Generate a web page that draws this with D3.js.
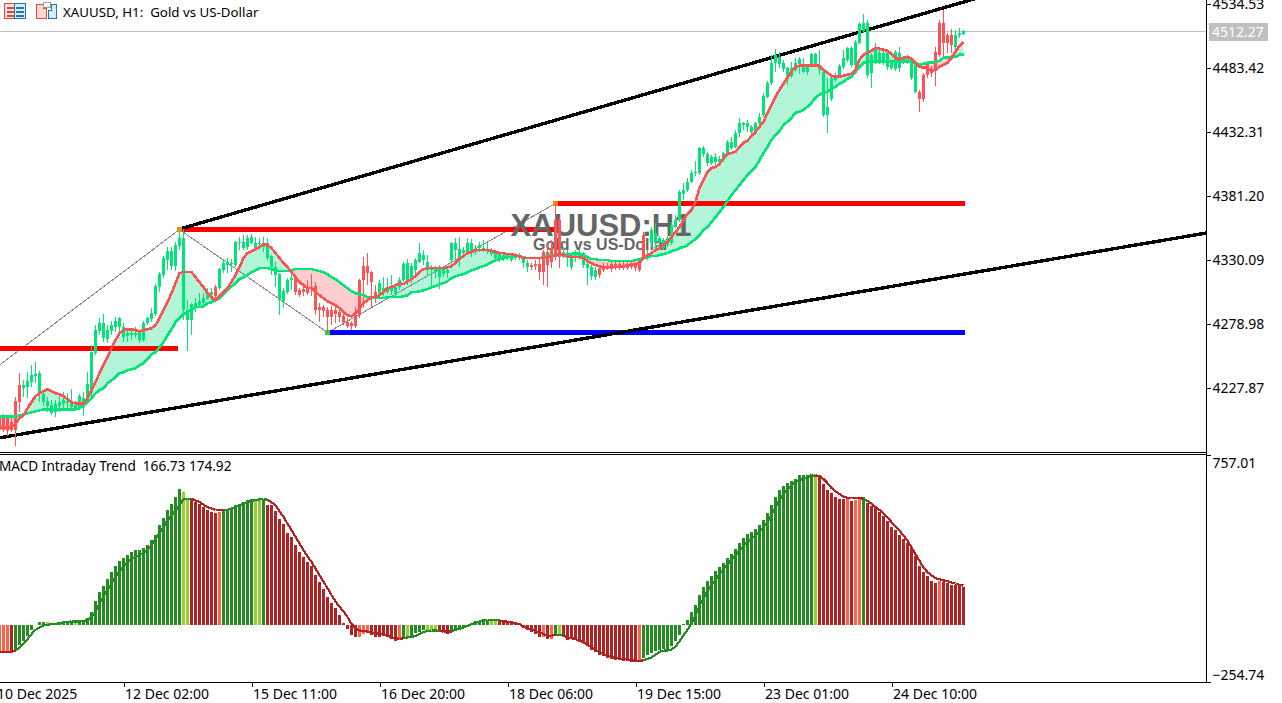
<!DOCTYPE html>
<html lang="en">
<head>
    <meta charset="UTF-8">
    <title>XAUUSD H1</title>
    <script src="https://d3js.org/d3.v7.min.js"></script>
    <style>
        html, body { margin: 0; padding: 0; background: #fff; overflow: hidden; }
        svg { display: block; }
        text { font-family: "Noto Sans", sans-serif; fill: #000; white-space: pre; }
        .crisp { shape-rendering: crispEdges; }
        .axis text { font-family: "Noto Sans", sans-serif; font-size: 14px; }
        .axis line { stroke: #000; shape-rendering: crispEdges; }
    </style>
</head>
<body>
    <svg id="chart" width="1282" height="703"></svg>

    <script>
        // price panel values, one entry per hourly bar
        var bodyHigh = [
            4205.2,4203.6,4200.4,4217.2,4230,4230,4233.2,4238,4238.8,4239.6,
            4222.8,4217.2,4214,4214.8,4216.4,4218,4217.2,4216.4,4214,4221.2,
            4219.6,4230.8,4256.4,4274,4279.6,4279.6,4274,4278,4281.2,4283.6,
            4276.4,4271.6,4271.6,4271.6,4272.4,4279.6,4283.6,4287.6,4309.2,4318.8,
            4331.6,4337.2,4337.2,4342,4347.6,4347.6,4290,4294.8,4295.6,4297.2,
            4299.6,4304.4,4304.4,4308.4,4322.8,4327.6,4328.4,4327.6,4344.4,4344.4,
            4344.4,4347.6,4348.4,4343.6,4343.6,4342.8,4343.6,4333.2,4324.4,4318.8,
            4305.2,4314,4315.6,4315.6,4306,4306.8,4308.4,4308.4,4309.2,4292.4,
            4292.4,4290,4290,4290,4288.4,4285.2,4280.4,4279.6,4286,4314,
            4325.2,4325.2,4320.4,4304.4,4311.6,4307.6,4307.6,4307.6,4308.4,4314,
            4326.8,4327.6,4325.2,4330,4335.6,4334,4328.4,4323.6,4322.8,4322.8,
            4322.8,4322,4343.6,4343.6,4338.8,4338,4343.6,4343.6,4338,4342,
            4339.6,4338.8,4338,4336.4,4334.8,4334,4334,4334,4334,4334,
            4331.6,4327.6,4326,4326.8,4326.8,4336.4,4336.4,4339.6,4362,4362,
            4336.4,4335.6,4334,4336.4,4335.6,4335.6,4326.8,4324.4,4322,4323.6,
            4325.2,4325.2,4326.8,4326.8,4326.8,4326,4326,4327.6,4326,4330,
            4350,4334,4354,4351.6,4347.6,4346,4347.6,4358,4362,4384.4,
            4386,4392.4,4399.6,4400.4,4419.6,4419.6,4414.8,4412.4,4412.4,4410.8,
            4415.6,4424.4,4424.4,4431.6,4439.6,4439.6,4439.6,4436.4,4439.6,4444.4,
            4461.2,4471.6,4487.6,4494,4492.4,4487.6,4483.6,4483.6,4487.6,4490.8,
            4486,4484.4,4494.8,4494.8,4486,4480.4,4452.4,4475.6,4478,4485.2,
            4491.6,4499.6,4499.6,4504.4,4518.8,4519.6,4519.6,4494,4499.6,4495.6,
            4495.6,4495.6,4488.4,4496.4,4495.6,4491.6,4491.6,4488.4,4487.6,4464.4,
            4478,4487.6,4482.8,4496.4,4519.6,4519.6,4510,4510,4510,4511.6,
            4513.2
        ];
        var bodyLow = [
            4194,4193.2,4194,4194,4216.4,4227.6,4228.4,4232.4,4237.2,4223.6,
            4216.4,4213.2,4207.6,4208.4,4213.2,4214.8,4215.6,4212.4,4211.6,4212.4,
            4212.4,4218,4223.6,4255.6,4273.2,4267.6,4266.8,4273.2,4276.4,4276.4,
            4268.4,4269.2,4270,4270,4266,4266,4279.6,4282.8,4286.8,4308.4,
            4318,4330,4325.2,4325.2,4341.2,4290,4282,4282,4293.2,4294,
            4295.6,4298.8,4302,4301.2,4307.6,4322,4326,4326.8,4326,4343.6,
            4339.6,4340.4,4343.6,4339.6,4342.8,4340.4,4331.6,4324.4,4318,4298,
            4297.2,4304.4,4314,4304.4,4302,4304.4,4303.6,4306.8,4290,4290,
            4289.2,4284.4,4284.4,4286.8,4284.4,4280.4,4277.2,4277.2,4277.2,4286,
            4314,4319.6,4312.4,4300.4,4302,4303.6,4304.4,4305.2,4302,4308.4,
            4314,4314,4314.8,4322,4328.4,4330,4322,4322,4320.4,4316.4,
            4318.8,4319.6,4330,4338,4331.6,4335.6,4335.6,4335.6,4336.4,4339.6,
            4338,4337.2,4334.8,4331.6,4331.6,4331.6,4331.6,4330,4331.6,4331.6,
            4327.6,4324.4,4324.4,4325.2,4320.4,4320.4,4326,4328.4,4332.4,4332.4,
            4332.4,4331.6,4324.4,4331.6,4331.6,4326,4323.6,4317.2,4316.4,4318,
            4322,4322.8,4322.8,4323.6,4323.6,4323.6,4323.6,4324.4,4323.6,4322,
            4331.6,4331.6,4344.4,4343.6,4344.4,4339.6,4342,4343.6,4356.4,4362,
            4382.8,4386,4392.4,4399.6,4399.6,4414.8,4407.6,4407.6,4408.4,4408.4,
            4410,4415.6,4419.6,4420.4,4431.6,4438,4436.4,4432.4,4433.2,4439.6,
            4446,4460.4,4471.6,4487.6,4486.8,4482.8,4475.6,4477.2,4482,4486.8,
            4480.4,4480.4,4486.8,4486,4482,4446,4446,4458.8,4474,4476.4,
            4484.4,4490,4486,4486,4503.6,4513.2,4478,4479.6,4488.4,4488.4,
            4488.4,4484.4,4483.6,4482.8,4483.6,4488.4,4489.2,4475.6,4464.4,4458.8,
            4458.8,4478,4479.6,4482,4494,4503.6,4503.6,4502,4500.4,4510,
            4510.8
        ];
        var wickHigh = [
            4206.8,4205.2,4204.4,4220.4,4239.6,4234,4240.4,4246,4248.4,4241.2,
            4226,4220.4,4218,4218,4221.2,4224.4,4223.6,4226.8,4217.2,4222.8,
            4224.4,4240.4,4262,4278,4283.6,4286.8,4278,4281.2,4284.4,4284.4,
            4279.6,4275.6,4275.6,4276.4,4274,4281.2,4284.4,4291.6,4310.8,4320.4,
            4333.2,4340.4,4340.4,4344.4,4354,4354.8,4298,4295.6,4299.6,4303.6,
            4303.6,4307.6,4307.6,4310,4323.6,4330.8,4331.6,4330.8,4345.2,4348.4,
            4350,4350,4350.8,4348.4,4347.6,4348.4,4347.6,4334,4328.4,4319.6,
            4307.6,4315.6,4322,4318,4307.6,4311.6,4314,4318.8,4312.4,4295.6,
            4294,4292.4,4293.2,4292.4,4291.6,4287.6,4283.6,4281.2,4292.4,4314.8,
            4332.4,4335.6,4321.2,4310,4314,4316.4,4315.6,4318,4310,4316.4,
            4328.4,4330.8,4327.6,4331.6,4343.6,4338,4334,4326,4325.2,4326,
            4325.2,4324.4,4344.4,4347.6,4348.4,4340.4,4347.6,4346.8,4342,4344.4,
            4346,4343.6,4339.6,4338,4336.4,4335.6,4335.6,4335.6,4335.6,4335.6,
            4332.4,4330,4327.6,4330,4332.4,4338,4344.4,4346,4375.6,4364.4,
            4340.4,4338,4335.6,4338,4338,4336.4,4331.6,4326,4324.4,4326,
            4327.6,4327.6,4328.4,4328.4,4328.4,4328.4,4328.4,4330,4328.4,4331.6,
            4352.4,4338,4356.4,4359.6,4349.2,4347.6,4349.2,4360.4,4366,4386,
            4391.6,4395.6,4402,4409.2,4420.4,4421.2,4416.4,4414,4415.6,4413.2,
            4416.4,4426,4428.4,4434,4443.6,4440.4,4442,4438,4440.4,4447.6,
            4463.6,4473.2,4494,4498.8,4496.4,4490,4484.4,4488.4,4491.6,4492.4,
            4491.6,4486.8,4495.6,4495.6,4498,4482,4475.6,4477.2,4479.6,4486.8,
            4498,4500.4,4501.2,4506,4520.4,4526.8,4522,4495.6,4503.6,4498,
            4498,4498,4490,4498,4500.4,4493.2,4494,4490,4488.4,4466,
            4479.6,4489.2,4485.2,4500.4,4522,4530,4511.6,4514.8,4514,4515.6,
            4514
        ];
        var wickLow = [
            4192.4,4189.2,4192.4,4181.2,4208.4,4220.4,4219.6,4228.4,4231.6,4216.4,
            4213.2,4208.4,4206,4204.4,4208.4,4210.8,4211.6,4210.8,4209.2,4210,
            4205.2,4216.4,4220.4,4254,4270,4264.4,4263.6,4270,4272.4,4271.6,
            4264.4,4264.4,4266,4267.6,4263.6,4264.4,4278,4280.4,4285.2,4304.4,
            4315.6,4322,4322,4321.2,4338,4282,4257.2,4270,4288.4,4291.6,
            4293.2,4298,4298,4299.6,4306,4319.6,4319.6,4320.4,4324.4,4338,
            4338,4338,4342.8,4338,4339.6,4336.4,4330,4318,4308.4,4286,
            4291.6,4302.8,4306,4302,4300.4,4301.2,4302,4301.2,4286,4280.4,
            4284.4,4272.4,4278,4279.6,4280.4,4278,4275.6,4274,4275.6,4283.6,
            4291.6,4310,4291.6,4295.6,4299.6,4301.2,4302.8,4302,4300.4,4306,
            4312.4,4310,4311.6,4318,4327.6,4326,4318,4307.6,4315.6,4306.8,
            4316.4,4315.6,4323.6,4328.4,4324.4,4331.6,4334,4332.4,4334,4336.4,
            4336.4,4334.8,4333.2,4330,4328.4,4329.2,4330,4328.4,4330,4330,
            4323.6,4320.4,4322,4322,4314,4310,4308.4,4323.6,4330,4323.6,
            4331.6,4324.4,4322,4328.4,4330,4323.6,4310,4314,4314,4315.6,
            4320.4,4322,4320.4,4322,4322,4322,4322,4322.8,4321.2,4320.4,
            4330.8,4330,4340.4,4338,4341.2,4338,4340.4,4342,4355.6,4360.4,
            4378,4384.4,4391.6,4397.2,4398,4412.4,4405.2,4406,4406,4406,
            4408.4,4414,4418,4419.6,4428.4,4434,4432.4,4430,4430,4437.2,
            4444.4,4459.6,4470,4480.4,4483.6,4480.4,4470,4475.6,4480.4,4478.8,
            4479.6,4478,4486,4485.2,4478,4444.4,4431.6,4457.2,4472.4,4475.6,
            4482.8,4488.4,4484.4,4483.6,4502.8,4511.6,4475.6,4467.6,4486.8,4486.8,
            4486,4482,4482,4481.2,4480.4,4486.8,4486.8,4474,4463.6,4448.4,
            4456.4,4475.6,4476.4,4469.2,4492.4,4492.4,4495.6,4495.6,4498,4507.6,
            4510
        ];
        var fastMa = [
            4196.4,4196.4,4196.4,4199.6,4203.6,4206,4211.6,4216.4,4221.2,4223.6,
            4225.2,4226.8,4225.2,4223.6,4222.8,4221.2,4218.8,4216.4,4215.6,4215.6,
            4215.6,4219.6,4226,4232.4,4239.6,4246,4252.4,4259.6,4266,4271.6,
            4274,4274.8,4274.8,4274,4273.2,4274,4274.8,4275.6,4278,4283.6,
            4290,4296.4,4303.6,4311.6,4319.6,4320.4,4320.4,4320.4,4316.4,4312.4,
            4308.4,4303.6,4300.4,4298,4301.2,4304.4,4307.6,4312.4,4318,4324.4,
            4331.6,4335.6,4337.2,4338.8,4340.4,4342.8,4342,4339.6,4335.6,4331.6,
            4327.6,4324.4,4320.4,4316.4,4312.4,4310,4307.6,4307.6,4304.4,4302,
            4299.6,4297.2,4295.6,4294,4291.6,4288.4,4286,4285.2,4287.6,4291.6,
            4295.6,4298,4300.4,4300.4,4302,4304.4,4307.6,4308.4,4310,4311.6,
            4310.8,4313.2,4314.8,4317.2,4320.4,4322.8,4323.6,4323.6,4323.6,4323.6,
            4323.6,4324.4,4325.2,4327.6,4330.8,4333.2,4335.6,4336.4,4338,4338,
            4338,4338,4337.2,4336.4,4335.6,4335.6,4334.8,4334.8,4334,4333.2,
            4331.6,4331.6,4331.6,4331.6,4331.6,4331.6,4332.4,4333.2,4334,4334.8,
            4334,4333.2,4332.4,4332.4,4332.4,4331.6,4329.2,4327.6,4326,4325.2,
            4324.4,4324.4,4324.4,4324.4,4324.4,4325.2,4326,4326,4326.8,4327.6,
            4331.6,4334,4335.6,4338,4339.6,4342,4344.4,4348.4,4352.4,4356.4,
            4362,4366.8,4370,4376.4,4387.6,4394,4400.4,4403.6,4404.4,4406.8,
            4411.6,4414.8,4415.6,4416.4,4420.4,4423.6,4425.2,4429.2,4432.4,4436.4,
            4440.4,4447.6,4454,4460.4,4466,4470.8,4475.6,4480.4,4484.4,4485.2,
            4485.2,4485.2,4485.2,4485.2,4485.2,4482,4479.6,4477.2,4476.4,4476.4,
            4477.2,4478,4478.8,4482,4490,4494,4495.6,4497.2,4499.6,4498.8,
            4498,4497.2,4494.8,4491.6,4490,4491.6,4492.4,4490.8,4487.6,4484.4,
            4483.6,4483.6,4481.2,4482,4484.4,4486,4487.6,4491.6,4496.4,4501.2,
            4504.4
        ];
        var slowMa = [
            4205.2,4205.2,4205.2,4205.2,4206,4206.8,4207.6,4208.4,4209.2,4210,
            4210.8,4210.8,4210.8,4210.8,4210.8,4210.8,4210.8,4210.8,4210.8,4211.6,
            4214,4216.4,4219.6,4223.6,4226,4227.6,4231.6,4234,4236.4,4239.6,
            4240.4,4242,4242.8,4243.6,4246,4247.6,4250.8,4254.8,4256.4,4260.4,
            4264.4,4270,4274.8,4280.4,4283.6,4286.8,4288.4,4290.8,4292.4,4292.4,
            4293.2,4295.6,4296.4,4298,4299.6,4302.8,4306,4309.2,4311.6,4314.8,
            4316.4,4318,4320.4,4322,4323.6,4323.6,4323.6,4322.8,4322,4321.2,
            4321.2,4321.2,4322,4322.8,4322.8,4322.8,4322.8,4322.8,4322,4321.2,
            4320.4,4318.8,4316.4,4314.8,4312.4,4310,4307.6,4305.2,4303.6,4302.8,
            4302,4300.4,4299.6,4299.6,4299.6,4299.6,4300.4,4300.4,4300.4,4300.4,
            4301.2,4302,4304.4,4304.4,4305.2,4306,4306.8,4308.4,4309.2,4310.8,
            4311.6,4313.2,4315.6,4317.2,4318,4318.8,4320.4,4322,4322.8,4324.4,
            4325.2,4326.8,4328.4,4330,4330.8,4331.6,4332.4,4332.4,4333.2,4333.2,
            4332.4,4331.6,4331.6,4331.6,4331.6,4332.4,4333.2,4334,4334,4334,
            4334,4334,4334.8,4335.6,4334.8,4334,4332.4,4330.8,4330.8,4330,
            4330,4330,4329.2,4329.2,4329.2,4329.2,4329.2,4329.2,4330,4330.8,
            4331.6,4332.4,4333.2,4333.2,4334,4334.8,4335.6,4337.2,4338,4339.6,
            4340.4,4342,4344.4,4346.8,4350,4354,4356.4,4360.4,4364.4,4368.4,
            4372.4,4377.2,4382,4386,4390,4394,4398,4401.2,4404.4,4410,
            4415.6,4420.4,4426,4430,4433.2,4438,4440.4,4443.6,4447.6,4448.4,
            4450,4452.4,4455.6,4459.6,4462,4463.6,4464.4,4466.8,4468.4,4470.8,
            4472.4,4474.8,4476.4,4480.4,4484.4,4487.6,4488.4,4488.4,4488.4,4488.4,
            4488.4,4488.4,4488.4,4488.4,4488.4,4488.4,4488.4,4488.4,4487.6,4486,
            4486.8,4487.6,4487.6,4488.4,4489.2,4491.6,4491.6,4492.4,4492.4,4494,
            4494
        ];
        // bars drawn in the bearish colour, as [first, last]
        var redCandleRanges = [[-1, 4], [53, 53], [73, 93], [132, 139], [149, 160], [229, 237]];

        // objects on the price panel
        var currentPrice = 4512.27;
        var levels = [
            {from: -2, to: 43.25, price: 4259.4, color: "#ff0000"},
            {from: 44, to: 138, price: 4354.4, color: "#ff0000"},
            {from: 138, to: 240, price: 4375.2, color: "#ff0000"},
            {from: 81, to: 240, price: 4272.2, color: "#0000ff"}
        ];
        var zigzagIndex = [-1, 44, 81, 138];
        var zigzagPrice = [4246.2, 4354.4, 4272.2, 4375.2];
        var upperTrendIndex = [44, 248];
        var upperTrendPrice = [4354.8, 4543.5];
        var lowerTrendIndex = [-1, 301];
        var lowerTrendPrice = [4188.1, 4351.8];

        // MACD panel values
        var macdHist = [
            -118,-118,-126,-110,-89,-71,-49,-22,-2,12,
            13,13,7,7,10,15,18,15,10,19,
            19,30,59,106,148,173,204,237,262,284,
            296,311,325,333,333,343,355,377,402,444,
            476,510,540,569,606,592,565,559,547,537,
            525,510,503,500,503,510,518,521,532,540,
            547,555,562,562,562,562,535,532,506,473,
            451,411,392,358,325,303,281,262,222,192,
            160,126,96,74,44,10,-18,-44,-56,-52,
            -40,-34,-44,-52,-52,-49,-55,-64,-70,-67,
            -59,-52,-55,-37,-30,-25,-22,-22,-22,-30,
            -34,-41,-33,-22,-19,-15,-4,7,15,19,
            25,22,19,19,22,19,15,15,10,7,
            -15,-22,-33,-41,-55,-56,-62,-62,-44,-40,
            -55,-67,-64,-67,-70,-81,-96,-111,-123,-133,
            -141,-148,-152,-155,-158,-160,-163,-167,-167,-167,
            -148,-133,-126,-118,-111,-106,-106,-96,-74,-44,
            4,22,58,89,133,169,195,217,240,257,
            275,297,315,337,364,386,404,413,426,444,
            466,497,532,572,599,617,630,640,652,666,
            666,670,674,674,666,626,599,586,572,563,
            563,563,550,555,559,568,541,528,519,501,
            484,461,435,422,399,382,364,342,306,262,
            235,217,195,186,195,191,186,177,177,177,
            169
        ];
        var macdSignal = [
            -121,-121,-121,-115,-100,-84,-64,-41,-22,-12,
            -2,0,3,4,7,9,13,15,15,15,
            16,22,33,59,96,126,155,185,214,237,
            259,278,293,303,311,322,333,355,385,407,
            436,466,488,510,532,559,562,562,555,547,
            535,525,518,513,513,513,513,518,525,532,
            540,547,553,556,559,560,558,547,532,506,
            481,451,422,392,362,333,306,281,251,222,
            192,163,133,104,81,60,35,4,-15,-25,
            -27,-30,-33,-37,-41,-44,-49,-55,-59,-64,
            -59,-56,-55,-49,-40,-33,-27,-25,-25,-27,
            -30,-30,-30,-22,-18,-12,-4,3,10,15,
            19,22,22,22,19,18,13,10,7,3,
            -7,-15,-19,-27,-34,-41,-47,-49,-44,-44,
            -49,-56,-59,-64,-71,-78,-89,-101,-111,-123,
            -130,-136,-143,-148,-151,-152,-155,-158,-160,-160,
            -158,-152,-145,-133,-121,-115,-114,-111,-96,-74,
            -47,-22,7,44,85,118,150,178,200,225,
            250,270,290,310,330,352,370,385,398,415,
            435,458,490,525,555,585,605,622,636,645,
            652,658,663,666,664,650,632,610,595,583,
            572,566,565,565,565,562,552,540,525,512,
            497,478,458,440,420,398,375,345,315,285,
            255,235,220,208,203,198,195,188,184,178,
            175
        ];
        var histLightBars = [11, 12, 18, 45, 46, 63, 64, 101, 106, 107, 108, 122, 123, 139, 203];
        var histOrangeBars = [-1, 0, 1, 54, 89, 90, 91, 99, 135, 137, 159, 211, 213, 214, 234];
        var histFallingRanges = [[2, 2], [47, 53], [66, 88], [92, 98], [109, 111], [124, 134], [136, 136],
            [140, 158], [204, 210], [212, 212], [216, 233], [235, 240]];
        var signalRisingRanges = [[3, 46], [55, 65], [100, 108], [112, 123], [138, 139], [160, 202], [215, 215]];

        // axis labels
        var priceTicks = [4534.53, 4483.42, 4432.31, 4381.20, 4330.09, 4278.98, 4227.87];
        var macdTicks = [757.01, -254.74];
        var timeTickIndex = [-2, 30, 62, 94, 126, 158, 190, 222];
        var timeTickLabels = ["10 Dec 2025", "12 Dec 02:00", "15 Dec 11:00", "16 Dec 20:00",
            "18 Dec 06:00", "19 Dec 15:00", "23 Dec 01:00", "24 Dec 10:00"];

        var GREEN = "#00e676", RED = "#ff5252";
        var plotRight = 1206;

        var x = d3.scaleLinear().domain([0, 240]).range([3.5, 963.5]);
        var y = d3.scaleLinear().domain([4534.53, 4227.87]).range([4, 388]);
        var m = d3.scaleLinear().domain([757.01, -254.74]).range([455, 682]);

        function inRanges(i, ranges) {
            return ranges.some(function(r) { return i >= r[0] && i <= r[1]; });
        }
        // bar -1 is only partly on screen and repeats the first reading
        function at(values, i) { return values[Math.max(i, 0)]; }

        var bars = d3.range(-1, bodyHigh.length);
        var svg = d3.select("#chart");
        var defs = svg.append("defs");

        defs.append("clipPath").attr("id", "price-clip").append("rect")
            .attr("width", plotRight).attr("height", 451);
        defs.append("clipPath").attr("id", "macd-clip").append("rect")
            .attr("y", 455).attr("width", plotRight).attr("height", 227);

        var pricePanel = svg.append("g").attr("clip-path", "url(#price-clip)");
        var macdPanel = svg.append("g").attr("clip-path", "url(#macd-clip)");

        // current price line
        pricePanel.append("line").attr("class", "crisp")
            .attr("x1", 0).attr("x2", plotRight)
            .attr("y1", y(currentPrice)).attr("y2", y(currentPrice))
            .attr("stroke", "#c0c0c0");

        // cloud between the two averages, split at the slow line
        var cloud = d3.area()
            .x(function(i) { return x(i); })
            .y0(function(i) { return y(at(fastMa, i)); })
            .y1(function(i) { return y(at(slowMa, i)); });
        var aboveSlow = d3.area().x(function(i) { return x(i); })
            .y0(function(i) { return y(at(slowMa, i)); }).y1(0);
        var belowSlow = d3.area().x(function(i) { return x(i); })
            .y0(function(i) { return y(at(slowMa, i)); }).y1(460);

        defs.append("clipPath").attr("id", "above-slow").append("path").attr("d", aboveSlow(bars));
        defs.append("clipPath").attr("id", "below-slow").append("path").attr("d", belowSlow(bars));

        pricePanel.append("path").attr("d", cloud(bars))
            .attr("fill", "#b2f5d8").attr("clip-path", "url(#above-slow)");
        pricePanel.append("path").attr("d", cloud(bars))
            .attr("fill", "#ffcdcd").attr("clip-path", "url(#below-slow)");

        // objects
        var line = d3.line()
            .x(function(d) { return x(d[0]); })
            .y(function(d) { return y(d[1]); });

        pricePanel.append("path").attr("class", "crisp")
            .attr("d", line(d3.zip(zigzagIndex, zigzagPrice)))
            .attr("fill", "none").attr("stroke", "#888");

        pricePanel.selectAll(".level").data(levels).enter().append("line")
            .attr("class", "level crisp")
            .attr("x1", function(d) { return x(d.from); })
            .attr("x2", function(d) { return x(d.to) + 1; })
            .attr("y1", function(d) { return y(d.price); })
            .attr("y2", function(d) { return y(d.price); })
            .attr("stroke", function(d) { return d.color; })
            .attr("stroke-width", 5);

        pricePanel.selectAll(".trend")
            .data([d3.zip(upperTrendIndex, upperTrendPrice), d3.zip(lowerTrendIndex, lowerTrendPrice)])
            .enter().append("path")
            .attr("class", "trend crisp")
            .attr("d", line)
            .attr("fill", "none").attr("stroke", "#000").attr("stroke-width", 3.4);

        pricePanel.selectAll(".pivot")
            .data([[44, 4354.4, "#ff8c00"], [81, 4272.2, "#32cd32"], [138, 4375.2, "#ff8c00"]])
            .enter().append("rect")
            .attr("class", "pivot crisp")
            .attr("x", function(d) { return x(d[0]) - 2.5; })
            .attr("y", function(d) { return y(d[1]) - 2.5; })
            .attr("width", 5).attr("height", 5)
            .attr("fill", function(d) { return d[2]; });

        // chart watermark
        pricePanel.append("text").attr("x", 601).attr("y", 236)
            .attr("text-anchor", "middle")
            .style("font", "bold 31px 'Liberation Sans'").style("fill", "#666")
            .text("XAUUSD:H1");
        pricePanel.append("text").attr("x", 601).attr("y", 250)
            .attr("text-anchor", "middle")
            .style("font", "bold 16px 'Liberation Sans'").style("fill", "#666")
            .text("Gold vs US-Dollar");

        // candles
        function candleColor(i) { return inRanges(i, redCandleRanges) ? RED : GREEN; }

        pricePanel.selectAll(".wick").data(bars).enter().append("rect")
            .attr("class", "wick crisp")
            .attr("x", function(i) { return x(i) - 0.5; })
            .attr("y", function(i) { return y(at(wickHigh, i)); })
            .attr("width", 1)
            .attr("height", function(i) { return y(at(wickLow, i)) - y(at(wickHigh, i)); })
            .attr("fill", candleColor);

        pricePanel.selectAll(".body").data(bars).enter().append("rect")
            .attr("class", "body crisp")
            .attr("x", function(i) { return x(i) - 1.5; })
            .attr("y", function(i) { return y(at(bodyHigh, i)); })
            .attr("width", 3)
            .attr("height", function(i) { return Math.max(1, y(at(bodyLow, i)) - y(at(bodyHigh, i))); })
            .attr("fill", candleColor);

        // moving averages on top
        var maLine = function(values) {
            return d3.line().x(function(i) { return x(i); }).y(function(i) { return y(at(values, i)); })(bars);
        };
        pricePanel.append("path").attr("class", "crisp").attr("d", maLine(slowMa))
            .attr("fill", "none").attr("stroke", GREEN).attr("stroke-width", 2.6);
        pricePanel.append("path").attr("class", "crisp").attr("d", maLine(fastMa))
            .attr("fill", "none").attr("stroke", RED).attr("stroke-width", 2.6);

        // MACD histogram
        function histColor(i) {
            if (histLightBars.indexOf(i) >= 0) return "#9acd32";
            if (histOrangeBars.indexOf(i) >= 0) return "#ff6347";
            return inRanges(i, histFallingRanges) ? "#b22222" : "#228b22";
        }

        macdPanel.selectAll(".hist").data(bars).enter().append("rect")
            .attr("class", "hist crisp")
            .attr("x", function(i) { return x(i) - 1.5; })
            .attr("y", function(i) { return Math.min(m(0), m(at(macdHist, i))); })
            .attr("width", 3)
            .attr("height", function(i) { return Math.abs(m(at(macdHist, i)) - m(0)); })
            .attr("fill", histColor);

        macdPanel.selectAll(".signal").data(bars.slice(0, -1)).enter().append("line")
            .attr("class", "signal crisp")
            .attr("x1", function(i) { return x(i); })
            .attr("x2", function(i) { return x(i + 1); })
            .attr("y1", function(i) { return m(at(macdSignal, i)); })
            .attr("y2", function(i) { return m(at(macdSignal, i + 1)); })
            .attr("stroke", function(i) { return inRanges(i, signalRisingRanges) ? "#228b22" : "#b22222"; })
            .attr("stroke-width", 2.2);

        // frame
        var frame = svg.append("g").attr("class", "crisp").attr("stroke", "#000");
        [452.5, 454.5, 682.5].forEach(function(v) {
            frame.append("line").attr("x1", 0).attr("x2", plotRight).attr("y1", v).attr("y2", v);
        });
        frame.append("line").attr("x1", plotRight + 0.5).attr("x2", plotRight + 0.5)
            .attr("y1", 0).attr("y2", 682.5);

        // axes
        var priceAxis = d3.axisRight(y).tickValues(priceTicks).tickSize(4).tickFormat(d3.format(".2f"));
        svg.append("g").attr("class", "axis").attr("transform", "translate(" + (plotRight + 0.5) + ",0)")
            .call(priceAxis)
            .call(function(g) { g.select(".domain").remove(); })
            .selectAll("text").attr("x", 6).attr("dy", "0.33em");

        var macdAxis = d3.axisRight(m).tickValues(macdTicks).tickSize(4).tickFormat(d3.format(".2f"));
        svg.append("g").attr("class", "axis").attr("transform", "translate(" + (plotRight + 0.5) + ",0)")
            .call(macdAxis)
            .call(function(g) { g.select(".domain").remove(); })
            .selectAll("text")
            .attr("x", 6)
            .attr("dy", function(d) { return d > 0 ? 12 : -3; });

        var timeAxis = d3.axisBottom(x).tickValues(timeTickIndex).tickSize(4)
            .tickFormat(function(d, i) { return timeTickLabels[i]; });
        svg.append("g").attr("class", "axis").attr("transform", "translate(0,682.5)")
            .call(timeAxis)
            .call(function(g) { g.select(".domain").remove(); })
            .selectAll("text")
            .attr("text-anchor", "start").attr("x", 1).attr("y", 7);

        // current price tag
        svg.append("rect").attr("class", "crisp")
            .attr("x", 1209).attr("y", y(currentPrice) - 9).attr("width", 59).attr("height", 18)
            .attr("fill", "#c0c0c0");
        svg.append("text").attr("x", 1212).attr("y", y(currentPrice))
            .attr("dy", "0.36em")
            .style("font", "14px 'Noto Sans'").style("fill", "#fff")
            .text(currentPrice.toFixed(2));

        // header
        svg.append("text").attr("x", 63).attr("y", 17)
            .style("font", "13.3px 'Noto Sans'")
            .text("XAUUSD, H1:  Gold vs US-Dollar");
        svg.append("text").attr("x", -1).attr("y", 471)
            .style("font", "13.6px 'Noto Sans'")
            .text("MACD Intraday Trend  166.73 174.92");

        // toolbar icons
        var icons = svg.append("g").attr("class", "crisp");
        icons.append("rect").attr("x", 4.5).attr("y", 3.5).attr("width", 10).attr("height", 15)
            .attr("fill", "#fbe4e0").attr("stroke", "#e8453c");
        icons.append("rect").attr("x", 14.5).attr("y", 3.5).attr("width", 11).attr("height", 15)
            .attr("fill", "#d9ebf7").attr("stroke", "#1f77b4");
        [7, 11, 15].forEach(function(v) {
            icons.append("rect").attr("x", 7).attr("y", v).attr("width", 7).attr("height", 1.5).attr("fill", "#e8453c");
            icons.append("rect").attr("x", 16).attr("y", v).attr("width", 8).attr("height", 1.5).attr("fill", "#1f77b4");
        });
        icons.append("path").attr("d", "M36.5 4.5h7v4h3v10h-10z")
            .attr("fill", "#fbd9cc").attr("stroke", "#e8453c");
        icons.append("path").attr("d", "M48.5 10.5h3v-6h5v14h-8z")
            .attr("fill", "#d9ebf7").attr("stroke", "#1f77b4");
        icons.append("rect").attr("x", 43.5).attr("y", 2.5).attr("width", 7).attr("height", 5)
            .attr("fill", "#fff").attr("stroke", "#999");
    </script>
</body>
</html>
